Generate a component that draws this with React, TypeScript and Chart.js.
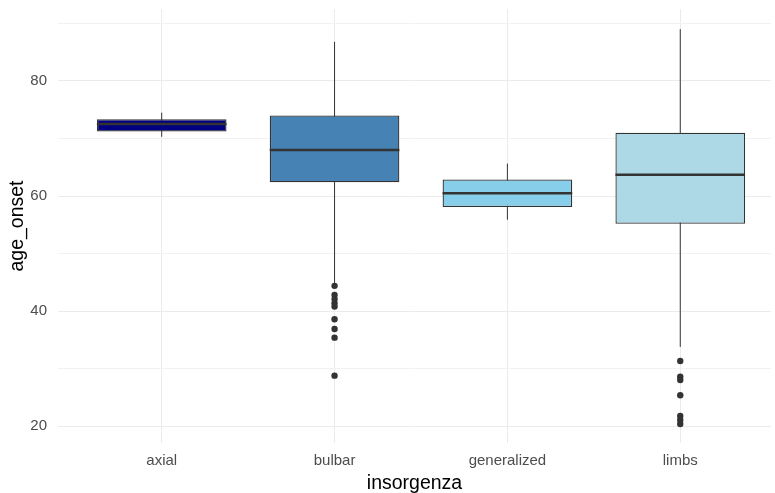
import React, { useEffect, useRef } from "react";
import { Chart, registerables } from "chart.js";

Chart.register(...registerables);

const categories = ["axial", "bulbar", "generalized", "limbs"];
const q1 = [71.2, 62.4, 58.1, 55.2];
const medians = [72.5, 68.0, 60.5, 63.7];
const q3 = [73.35, 74.0, 62.9, 71.0];
const whiskerLow = [70.3, 44.8, 55.9, 33.8];
const whiskerHigh = [74.5, 86.8, 65.65, 89.0];
const bulbarOutliers = [44.4, 42.8, 42.1, 41.4, 40.8, 38.6, 36.9, 35.4, 28.8];
const limbsOutliers = [31.35, 28.6, 28.05, 25.4, 21.8, 21.1, 20.4];
const boxColors = ["#000080", "#4682B4", "#87CEEB", "#ADD8E6"];
const yTickLabels = [20, 40, 60, 80];
const yGridValues = [20, 30, 40, 50, 60, 70, 80, 90];
const xTitle = "insorgenza";
const yTitle = "age_onset";

const BOX_WIDTH = 0.75;
const FONT = "'Liberation Sans', Arial, sans-serif";

export default function App() {
  const ref = useRef<HTMLCanvasElement | null>(null);

  useEffect(() => {
    if (!ref.current) return;
    const half = BOX_WIDTH / 2;
    const whiskerData: any[] = [];
    const medianData: any[] = [];
    categories.forEach((_, i) => {
      whiskerData.push({ x: i, y: whiskerLow[i] }, { x: i, y: whiskerHigh[i] }, { x: i, y: null });
      medianData.push({ x: i - half, y: medians[i] }, { x: i + half, y: medians[i] }, { x: i, y: null });
    });
    const outlierData = [
      ...bulbarOutliers.map((v) => ({ x: categories.indexOf("bulbar"), y: v })),
      ...limbsOutliers.map((v) => ({ x: categories.indexOf("limbs"), y: v })),
    ];

    const chart = new Chart(ref.current, {
      type: "bar",
      data: {
        datasets: [
          {
            type: "line",
            data: whiskerData,
            borderColor: "#333333",
            borderWidth: 1,
            pointRadius: 0,
            spanGaps: false,
            order: 3,
          } as any,
          {
            type: "bar",
            data: categories.map((_, i) => ({ x: i, y: [q1[i], q3[i]] })),
            backgroundColor: boxColors,
            borderColor: "#333333",
            borderWidth: 1.3,
            borderSkipped: false,
            barPercentage: BOX_WIDTH,
            categoryPercentage: 1,
            grouped: false,
            order: 2,
          } as any,
          {
            type: "line",
            data: medianData,
            borderColor: "#333333",
            borderWidth: 2.5,
            borderCapStyle: "butt",
            pointRadius: 0,
            spanGaps: false,
            order: 1,
          } as any,
          {
            type: "line",
            data: outlierData,
            showLine: false,
            pointRadius: 3.2,
            pointBackgroundColor: "#333333",
            pointBorderWidth: 0,
            order: 0,
          } as any,
        ],
      },
      options: {
        responsive: false,
        maintainAspectRatio: false,
        devicePixelRatio: 1,
        animation: false,
        layout: { padding: { top: 9, left: 0, right: 0, bottom: 0 } },
        plugins: { legend: { display: false }, tooltip: { enabled: false } },
        scales: {
          x: {
            type: "linear",
            min: -0.6,
            max: 3.525,
            offset: false,
            afterBuildTicks: (scale: any) => {
              scale.ticks = categories.map((_, i) => ({ value: i }));
            },
            afterFit: (scale: any) => {
              scale.height = 50;
              scale.paddingLeft = 0;
              scale.paddingRight = 0;
            },
            border: { display: false },
            grid: { color: "#EBEBEB", lineWidth: 1, drawTicks: false, offset: false },
            ticks: {
              autoSkip: false,
              maxRotation: 0,
              padding: 9,
              color: "#4D4D4D",
              font: { family: FONT, size: 15 },
              callback: (v: any) => categories[Math.round(Number(v))] ?? "",
            },
            title: {
              display: true,
              text: xTitle,
              color: "#000000",
              font: { family: FONT, size: 19.5, lineHeight: 1 },
              padding: { top: 0, bottom: 0 },
            },
          },
          y: {
            type: "linear",
            min: 17.1,
            max: 92.5,
            afterBuildTicks: (scale: any) => {
              scale.ticks = yGridValues.map((v) => ({ value: v }));
            },
            afterFit: (scale: any) => {
              scale.width = 58;
              scale.paddingTop = 0;
              scale.paddingBottom = 0;
            },
            border: { display: false },
            grid: {
              drawTicks: false,
              lineWidth: 1,
              color: (ctx: any) =>
                yTickLabels.includes(ctx.tick?.value) ? "#EBEBEB" : "#F2F2F2",
            },
            ticks: {
              autoSkip: false,
              padding: 11,
              color: "#4D4D4D",
              font: { family: FONT, size: 15 },
              callback: (v: any) => (yTickLabels.includes(Number(v)) ? String(v) : ""),
            },
            title: {
              display: true,
              text: yTitle,
              color: "#000000",
              font: { family: FONT, size: 19.5, lineHeight: 1 },
              padding: { top: 8, bottom: 0 },
            },
          },
        },
      } as any,
    });
    return () => chart.destroy();
  }, []);

  return (
    <div style={{ position: "absolute", left: 0, top: 0, width: 775, height: 493, background: "#fff" }}>
      <canvas ref={ref} width={775} height={493} style={{ display: "block" }} />
    </div>
  );
}
